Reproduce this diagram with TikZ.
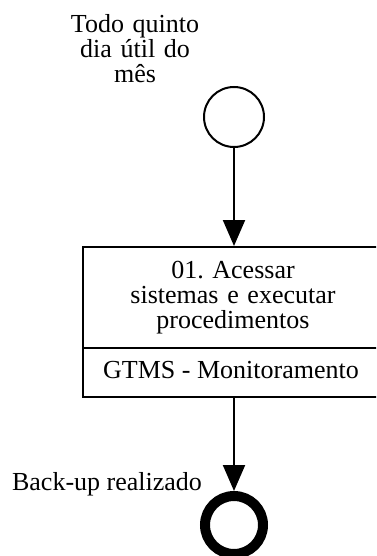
\documentclass[tikz,border=0pt]{standalone}
\usepackage{fontspec}
\setmainfont{Liberation Serif}
\usetikzlibrary{arrows.meta}
\begin{document}
\begin{tikzpicture}[x=1pt,y=-1pt,
  txt/.style={font=\fontsize{26}{25}\selectfont, inner sep=0pt},
  startev/.style={circle, draw, line width=2pt, minimum size=60pt, inner sep=0pt},
  endev/.style={circle, draw, line width=10pt, minimum size=58pt, inner sep=0pt},
  taskbox/.style={rectangle, draw, line width=2pt, minimum width=302pt, minimum height=150pt, inner sep=0pt},
  divider/.style={line width=2pt},
  flow/.style={line width=2pt, -{Triangle[width=22pt,length=26pt]}}]
\useasboundingbox (0,0) rectangle (376,556);
\clip (0,0) rectangle (376,556);
\node[startev] (start) at (234,117) {};
\node[taskbox] (task) at (234,322) {};
\coordinate (divL) at (83,348);
\coordinate (divR) at (385,348);
\draw[divider] (divL) -- (divR);
\node[endev] (end) at (234,525) {};
\draw[flow] (start) -- (task);
\draw[flow] (task) -- (end);
\node[txt, text width=170pt, align=center, anchor=base] (lbl) at (135,33) {Todo quinto\\dia útil do\\mês};
\node[txt, text width=290pt, align=center, anchor=base] (tname) at (233,278) {01.\ Acessar\\sistemas e executar\\procedimentos};
\node[txt, anchor=base] (tlane) at (231,378) {GTMS - Monitoramento};
\node[txt, anchor=base] (endlbl) at (107,490) {Back-up realizado};
\end{tikzpicture}
\end{document}
